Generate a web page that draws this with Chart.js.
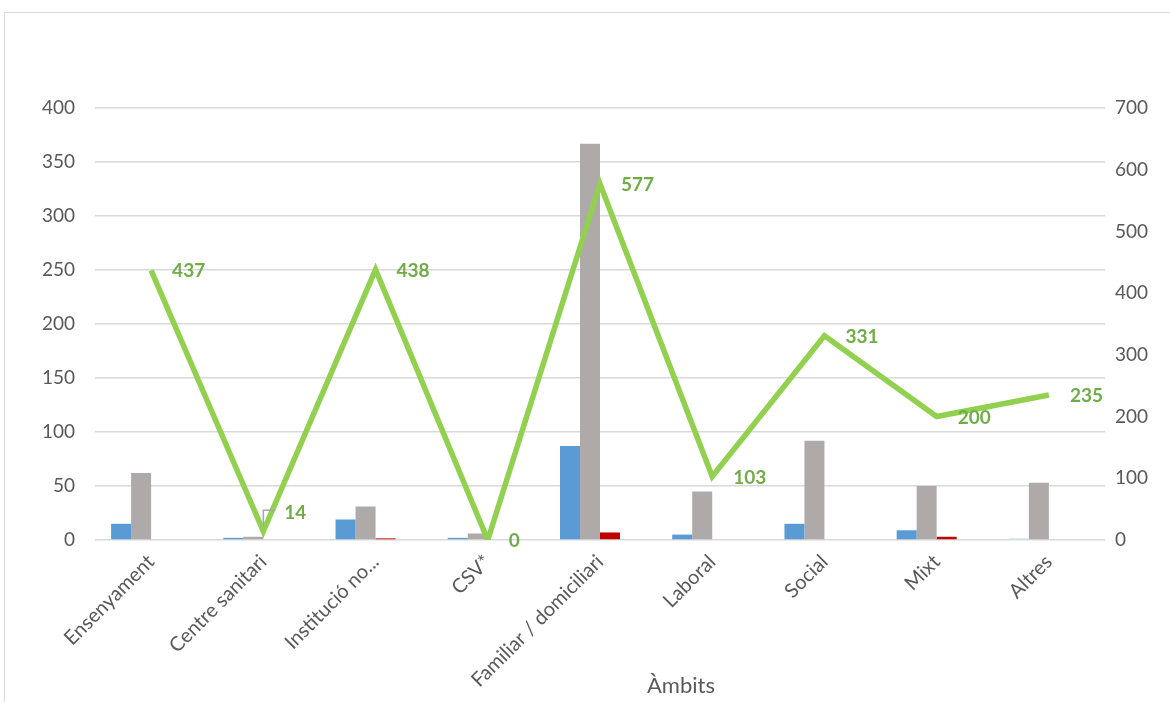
<!DOCTYPE html>
<html>
<head>
<meta charset="utf-8">
<script src="https://cdn.jsdelivr.net/npm/chart.js@4.4.0/dist/chart.umd.min.js"></script>
<style>
  html, body { margin: 0; padding: 0; background: #fff; }
  #wrap { width: 1170px; height: 702px; }
</style>
</head>
<body>
<div id="wrap"><canvas id="grafic" width="1170" height="702"></canvas></div>
<script>
// Categories (àmbits)
const ambits = ["Ensenyament", "Centre sanitari", "Institució no...", "CSV*",
  "Familiar / domiciliari", "Laboral", "Social", "Mixt", "Altres"];

// Bar series (left axis)
const serieBlava = [15, 2, 19, 2, 87, 5, 15, 9, 2];
const serieGrisa = [62, 3, 31, 6, 367, 45, 92, 50, 53];
const serieVermella = [0, 0, 1.5, 0, 7, 0, 0, 3, 0];
const serieBuida = [0, 0, 0, 0, 0, 0, 0, 0, 0];

// Line series (right axis)
const total = [437, 14, 438, 0, 577, 103, 331, 200, 235];

// Ticks
const ticsEsquerra = [0, 50, 100, 150, 200, 250, 300, 350, 400];
const ticsDreta = [0, 100, 200, 300, 400, 500, 600, 700];

const titolEix = "Àmbits";

const FONT = "Lato, 'Open Sans', sans-serif";
const GRIS_TEXT = "#595959";

// marc gris al voltant del gràfic + títol de l'eix X
const marc = {
  id: "marc",
  beforeDraw(chart) {
    const ctx = chart.ctx;
    ctx.save();
    ctx.strokeStyle = "#D9D9D9";
    ctx.lineWidth = 1;
    ctx.strokeRect(4.5, 12.5, 1170, 700);
    ctx.restore();
  },
  afterDraw(chart) {
    const ctx = chart.ctx;
    const area = chart.chartArea;
    ctx.save();
    ctx.font = "22px " + FONT;
    ctx.fillStyle = GRIS_TEXT;
    ctx.textAlign = "center";
    ctx.textBaseline = "alphabetic";
    // el títol queda una mica desplaçat a la dreta, com a l'original
    ctx.fillText(titolEix, (area.left + area.right) / 2 + 81, chart.height - 9);
    ctx.restore();
  }
};

// etiquetes de la línia verda
const etiquetes = {
  id: "etiquetes",
  afterDatasetsDraw(chart) {
    const meta = chart.getDatasetMeta(4);
    const ctx = chart.ctx;
    const amunt = { 1: -19 }; // "14" va desplaçat amb línia guia
    ctx.save();
    ctx.font = "bold 19px " + FONT;
    ctx.fillStyle = "#70AD47";
    ctx.textAlign = "left";
    ctx.textBaseline = "middle";
    meta.data.forEach((pt, i) => {
      const dy = amunt[i] || 0;
      const x = pt.x + 21;
      const y = pt.y + dy;
      if (dy) {
        ctx.strokeStyle = "#A6A6A6";
        ctx.lineWidth = 1.5;
        ctx.beginPath();
        ctx.moveTo(pt.x, pt.y - 4);
        ctx.lineTo(pt.x, y - 2);
        ctx.lineTo(pt.x + 12, y - 2);
        ctx.stroke();
      }
      ctx.fillText(String(total[i]), x, y + 1);
    });
    ctx.restore();
  }
};

const barra = (data, color) => ({
  type: "bar",
  data: data,
  backgroundColor: color,
  yAxisID: "y",
  order: 1,
  categoryPercentage: 0.713,
  barPercentage: 1.0
});

const colorsBlaus = serieBlava.map((v, i) => i === 8 ? "#DDEBF7" : "#5B9BD5");

new Chart(document.getElementById("grafic"), {
  data: {
    labels: ambits,
    datasets: [
      barra(serieBlava, colorsBlaus),
      barra(serieGrisa, "#AEAAAA"),
      barra(serieVermella, "#C00000"),
      barra(serieBuida, "#FFC000"),
      {
        type: "line",
        data: total,
        borderColor: "#92D050",
        borderWidth: 5.5,
        pointRadius: 0,
        tension: 0,
        yAxisID: "y2",
        order: 0
      }
    ]
  },
  options: {
    responsive: false,
    animation: false,
    layout: { padding: { top: 108, left: 0, right: 0, bottom: 2 } },
    plugins: {
      legend: { display: false },
      tooltip: { enabled: false }
    },
    scales: {
      x: {
        grid: { display: false },
        border: { display: false },
        ticks: {
          color: GRIS_TEXT,
          font: { family: FONT, size: 20 },
          maxRotation: 45,
          minRotation: 45,
          padding: 2
        },
        title: { display: false },
        afterFit(scale) { scale.height = 160; }
      },
      y: {
        position: "left",
        min: 0,
        max: 400,
        afterBuildTicks(scale) { scale.ticks = ticsEsquerra.map(v => ({ value: v })); },
        grid: { color: "#D9D9D9", lineWidth: 1.5, drawTicks: false },
        border: { display: false },
        ticks: {
          color: GRIS_TEXT,
          font: { family: FONT, size: 19 },
          padding: 20
        },
        afterFit(scale) { scale.width = 95; }
      },
      y2: {
        position: "right",
        min: 0,
        max: 700,
        afterBuildTicks(scale) { scale.ticks = ticsDreta.map(v => ({ value: v })); },
        grid: { display: false, drawTicks: false },
        border: { display: false },
        ticks: {
          color: GRIS_TEXT,
          font: { family: FONT, size: 19 },
          padding: 10
        },
        afterFit(scale) { scale.width = 65; }
      }
    }
  },
  plugins: [marc, etiquetes]
});
</script>
</body>
</html>
